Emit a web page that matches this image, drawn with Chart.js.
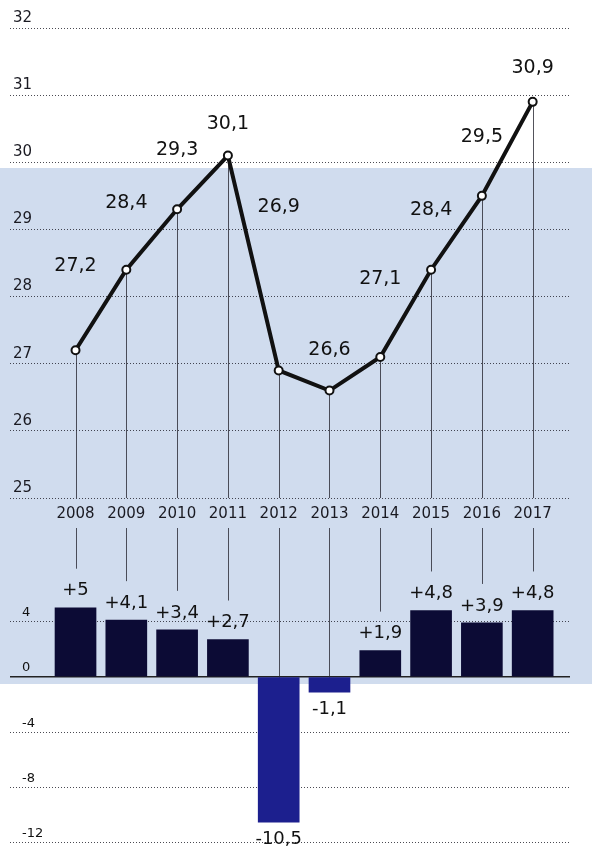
<!DOCTYPE html>
<html>
<head>
<meta charset="utf-8">
<script src="https://cdn.jsdelivr.net/npm/chart.js@4.4.0/dist/chart.umd.min.js"></script>
<style>
  html, body { margin: 0; padding: 0; background: #fff; }
  body { width: 592px; height: 849px; position: relative; overflow: hidden; }
  .band { position: absolute; left: 0; top: 168px; width: 592px; height: 516px; background: #d0dcee; }
  .box { position: absolute; left: 0; width: 592px; }
  #top { top: 0; height: 525px; }
  #bottom { top: 525px; height: 324px; }
</style>
</head>
<body>
<div class="band"></div>
<div class="box" id="top"><canvas id="lineChart"></canvas></div>
<div class="box" id="bottom"><canvas id="barChart"></canvas></div>
<script>
// Data
const years = [2008, 2009, 2010, 2011, 2012, 2013, 2014, 2015, 2016, 2017];
const values = [27.2, 28.4, 29.3, 30.1, 26.9, 26.6, 27.1, 28.4, 29.5, 30.9];
const changes = [5, 4.1, 3.4, 2.7, -10.5, -1.1, 1.9, 4.8, 3.9, 4.8];
const valueTicks = [25, 26, 27, 28, 29, 30, 31, 32];
const changeTicks = [-12, -8, -4, 0, 4];

const FONT = "'DejaVu Sans', sans-serif";
const fmt = (v) => String(v).replace(".", ",");

// shared x range so both charts line up
const xMin = 2006.71;
const xMax = 2017.735;

// keep the y axes from reserving extra room
const fitY = (s) => {
  s.width = 10;
  s.paddingTop = 0;
  s.paddingBottom = 0;
};

// thin vertical lines from the marks
const dropLines = {
  id: "dropLines",
  beforeDatasetsDraw(chart, args, opts) {
    const { ctx, chartArea } = chart;
    const meta = chart.getDatasetMeta(0);
    ctx.save();
    ctx.strokeStyle = opts.color;
    ctx.lineWidth = 1;
    meta.data.forEach((el, i) => {
      const x = Math.round(el.x) + 0.5;
      let y1, y2;
      if (opts.mode === "down") {
        y1 = el.y;
        y2 = chartArea.bottom;
      } else {
        y1 = chartArea.top;
        y2 = changes[i] > 0 ? el.y - opts.gap : el.base;
      }
      ctx.beginPath();
      ctx.moveTo(x, y1);
      ctx.lineTo(x, y2);
      ctx.stroke();
    });
    ctx.restore();
  }
};

// value labels
const valueLabels = {
  id: "valueLabels",
  afterDatasetsDraw(chart, args, opts) {
    const { ctx } = chart;
    const meta = chart.getDatasetMeta(0);
    const data = chart.data.datasets[0].data;
    ctx.save();
    ctx.font = opts.font;
    ctx.fillStyle = "#111";
    ctx.textAlign = "center";
    ctx.textBaseline = "middle";
    meta.data.forEach((el, i) => {
      const v = data[i].y;
      let y;
      if (opts.lift) {
        y = el.y - opts.lift[i];
      } else {
        y = v >= 0 ? el.y - opts.offset : el.y + opts.offset;
      }
      const text = opts.sign && v > 0 ? "+" + fmt(v) : fmt(v);
      ctx.fillText(text, el.x, y);
    });
    ctx.restore();
  }
};

new Chart(document.getElementById("lineChart"), {
  type: "line",
  data: {
    datasets: [
      {
        data: years.map((y, i) => ({ x: y, y: values[i] })),
        borderColor: "#111",
        borderWidth: 4,
        tension: 0,
        pointRadius: 4,
        pointBackgroundColor: "#fff",
        pointBorderColor: "#111",
        pointBorderWidth: 2,
        clip: false
      }
    ]
  },
  options: {
    responsive: true,
    maintainAspectRatio: false,
    animation: false,
    layout: { padding: { top: 28, left: 0, right: 22, bottom: 0 } },
    plugins: {
      legend: { display: false },
      tooltip: { enabled: false },
      dropLines: { mode: "down", color: "rgba(40,40,50,0.8)" },
      valueLabels: {
        font: "19px " + FONT,
        lift: [84, 67, 59, 32, 163, 41, 78, 60, 59, 34]
      }
    },
    scales: {
      x: {
        type: "linear",
        min: xMin,
        max: xMax,
        offset: false,
        afterBuildTicks: (s) => { s.ticks = years.map((v) => ({ value: v })); },
        afterFit: (s) => { s.height = 27; },
        ticks: {
          callback: (v) => String(v),
          color: "#1a1a22",
          font: { family: FONT, size: 15 },
          padding: -1,
          maxRotation: 0,
          autoSkip: false
        },
        grid: { display: false },
        border: { display: false }
      },
      y: {
        min: 25,
        max: 32,
        afterBuildTicks: (s) => { s.ticks = valueTicks.map((v) => ({ value: v })); },
        afterFit: fitY,
        ticks: {
          mirror: true,
          padding: 3,
          labelOffset: -10,
          color: "#1a1a22",
          font: { family: FONT, size: 15 },
          callback: (v) => String(v)
        },
        grid: { color: "rgba(30,30,40,0.8)", lineWidth: 1, drawTicks: false },
        border: { display: false, dash: [1, 2] }
      }
    }
  },
  plugins: [dropLines, valueLabels]
});

new Chart(document.getElementById("barChart"), {
  type: "bar",
  data: {
    datasets: [
      {
        data: years.map((y, i) => ({ x: y, y: changes[i] })),
        backgroundColor: changes.map((v) => (v < 0 ? "#1c1f8e" : "#0c0b35")),
        barThickness: 41,
        borderWidth: 0
      }
    ]
  },
  options: {
    responsive: true,
    maintainAspectRatio: false,
    animation: false,
    layout: { padding: { top: 3, left: 0, right: 22, bottom: 2 } },
    plugins: {
      legend: { display: false },
      tooltip: { enabled: false },
      dropLines: { mode: "up", gap: 39, color: "rgba(40,40,50,0.8)" },
      valueLabels: { font: "18px " + FONT, offset: 17, sign: true }
    },
    scales: {
      x: {
        type: "linear",
        min: xMin,
        max: xMax,
        offset: false,
        grid: { offset: false },
        display: false
      },
      y: {
        min: -12.29,
        max: 10.76,
        afterBuildTicks: (s) => { s.ticks = changeTicks.map((v) => ({ value: v })); },
        afterFit: fitY,
        ticks: {
          mirror: true,
          padding: 12,
          labelOffset: -9,
          color: "#111",
          font: { family: FONT, size: 13 },
          callback: (v) => String(v)
        },
        grid: {
          color: (c) => (c.tick && c.tick.value === 0 ? "#222" : "rgba(30,30,40,0.8)"),
          lineWidth: (c) => (c.tick && c.tick.value === 0 ? 1.5 : 1),
          drawTicks: false
        },
        border: {
          display: false,
          dash: (c) => (c.tick && c.tick.value === 0 ? [] : [1, 2])
        }
      }
    }
  },
  plugins: [dropLines, valueLabels]
});
</script>
</body>
</html>
